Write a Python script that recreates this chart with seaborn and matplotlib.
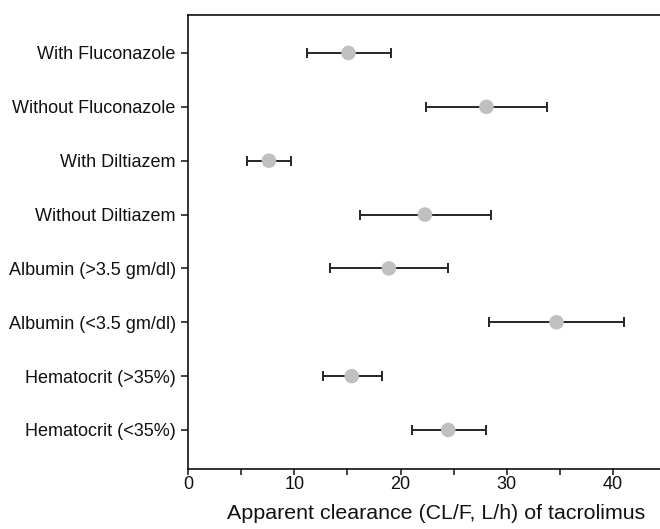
import matplotlib
matplotlib.use("Agg")
import matplotlib.pyplot as plt
import seaborn as sns
import pandas as pd
from matplotlib.ticker import MultipleLocator

categories = [
    "With Fluconazole",
    "Without Fluconazole",
    "With Diltiazem",
    "Without Diltiazem",
    "Albumin (>3.5 gm/dl)",
    "Albumin (<3.5 gm/dl)",
    "Hematocrit (>35%)",
    "Hematocrit (<35%)",
]
estimate = [15.1, 28.1, 7.6, 22.3, 18.9, 34.7, 15.4, 24.5]
lower = [11.2, 22.4, 5.5, 16.2, 13.4, 28.3, 12.7, 21.1]
upper = [19.1, 33.8, 9.7, 28.5, 24.5, 41.1, 18.3, 28.1]

df = pd.DataFrame({"category": categories, "estimate": estimate,
                   "lower": lower, "upper": upper})
df["pos"] = range(len(df))

sns.set_theme(style="ticks")
plt.rcParams["font.family"] = ["Liberation Sans", "DejaVu Sans"]

fig = plt.figure(figsize=(6.6, 5.29), dpi=100)
# axes extends slightly beyond the right edge of the figure (cropped plot)
ax = fig.add_axes([0.2853, 0.1129, 0.7511, 0.8582])

ax.errorbar(df["estimate"], df["pos"],
            xerr=[df["estimate"] - df["lower"], df["upper"] - df["estimate"]],
            fmt="none", ecolor="#262626", elinewidth=1.4, capsize=3.8,
            capthick=1.4, zorder=2)
sns.scatterplot(data=df, x="estimate", y="pos", ax=ax, s=110,
                color="#c0c0c0", edgecolor="none", zorder=3, legend=False)

ax.set_xlim(0, 46.72)
ax.set_ylim(7.73, -0.70)
ax.set_yticks(df["pos"])
ax.set_yticklabels(df["category"])
ax.xaxis.set_major_locator(MultipleLocator(10))
ax.xaxis.set_minor_locator(MultipleLocator(5))
ax.tick_params(axis="x", which="both", direction="out", length=4, width=1.1,
               colors="#111111", labelsize=13, pad=1)
ax.tick_params(axis="y", direction="out", length=5, width=1.1,
               colors="#111111", labelsize=13, pad=4)
for lab in ax.get_xticklabels() + ax.get_yticklabels():
    lab.set_color("#111111")
ax.set_xlabel("Apparent clearance (CL/F, L/h) of tacrolimus", fontsize=15.4,
              color="#111111", labelpad=8)
ax.set_ylabel("")
for side in ["left", "top", "bottom"]:
    ax.spines[side].set_linewidth(1.2)
    ax.spines[side].set_color("#111111")
ax.spines["right"].set_visible(False)

fig.savefig("out.png", dpi=100)
